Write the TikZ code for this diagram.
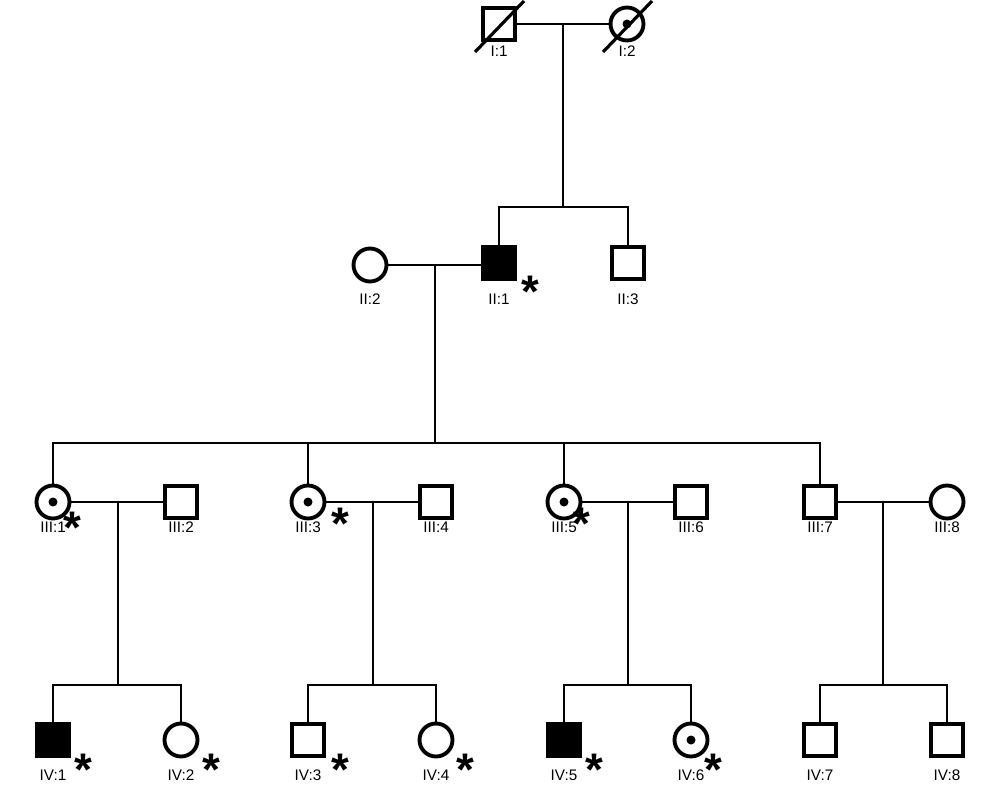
\documentclass[tikz,border=0pt]{standalone}
\usepackage{fontspec}
\setmainfont{Liberation Sans}
\begin{document}
\begin{tikzpicture}[x=0.02cm,y=-0.02cm,
  sym/.style={line width=2.2pt,draw=black,fill=white,inner sep=0pt,outer sep=0pt},
  male/.style={sym,rectangle,minimum size=0.64cm},
  female/.style={sym,circle,minimum size=0.66cm},
  aff/.style={fill=black},
  con/.style={line width=1.2pt},
  lab/.style={font=\fontsize{8.7}{9}\selectfont,inner sep=0pt},
  ast/.style={font=\bfseries\fontsize{26}{26}\selectfont,inner sep=0pt}]
\useasboundingbox (0,0) rectangle (1007,800);
\coordinate (d1) at (563,24); \coordinate (s1) at (563,207);
\coordinate (d2) at (435,265); \coordinate (s2) at (435,443);
\draw[con] (499,24) -- (627,24);
\draw[con] (d1) -- (s1);
\draw[con] (499,263) |- (s1) -| (628,263);
\draw[con] (370,265) -- (499,265);
\draw[con] (d2) -- (s2);
\draw[con] (53,502) |- (s2) -| (820,502);
\draw[con] (308,502) -- (308,443);
\draw[con] (564,502) -- (564,443);
\foreach \a/\b/\m in {53/181/118,308/436/373,564/691/628,820/947/883}{
  \draw[con] (\a,502) -- (\b,502);
  \draw[con] (\m,502) -- (\m,685);
  \draw[con] (\a,740) |- (\m,685) -| (\b,740);
}
% Generation I
\node[male] (I1) at (499,24) {};
\node[female] (I2) at (627,24) {};
\fill (I2) circle (4.5);
\draw[line width=1.8pt] (475,52) -- (524,1);
\draw[line width=1.8pt] (603,52) -- (652,1);
\node[lab] at (499,51) {I:1};
\node[lab] at (627,51) {I:2};
% Generation II
\node[female] (II2) at (370,265) {};
\node[male,aff] (II1) at (499,263) {};
\node[male] (II3) at (628,263) {};
\node[lab] at (370,299) {II:2};
\node[lab] at (499,299) {II:1};
\node[lab] at (628,299) {II:3};
\node[ast] at (530,292) {*};
% Generation III
\foreach \x/\t/\n in {53/f/1,181/m/2,308/f/3,436/m/4,564/f/5,691/m/6,820/m/7,947/f/8}{
  \if\t m \node[male] (III\n) at (\x,502) {};
  \else \node[female] (III\n) at (\x,502) {}; \fi
  \node[lab] at (\x,527) {III:\n};
}
\foreach \x in {53,308,564}{\fill (\x,502) circle (4.5);}
\node[ast] at (72,528) {*};
\node[ast] at (340,524) {*};
\node[ast] at (581,524) {*};
% Generation IV
\foreach \x/\t/\n in {53/a/1,181/f/2,308/m/3,436/f/4,564/a/5,691/f/6,820/m/7,947/m/8}{
  \if\t m \node[male] (IV\n) at (\x,740) {};
  \else\if\t a \node[male,aff] (IV\n) at (\x,740) {};
  \else \node[female] (IV\n) at (\x,740) {}; \fi\fi
  \node[lab] at (\x,775) {IV:\n};
}
\fill (691,740) circle (4.5);
\foreach \x in {83,211,340,465,594,713}{\node[ast] at (\x,770) {*};}
\end{tikzpicture}
\end{document}
